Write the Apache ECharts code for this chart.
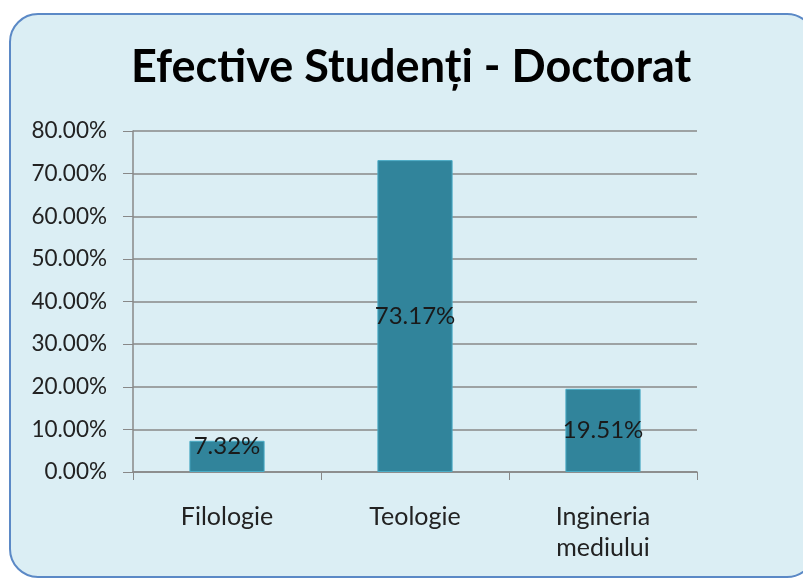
<!DOCTYPE html>
<html>
<head>
<meta charset="utf-8">
<script src="https://cdn.jsdelivr.net/npm/echarts@6/dist/echarts.min.js"></script>
<style>html,body{margin:0;padding:0;background:#fff;}#c{width:803px;height:579px;}</style>
</head>
<body>
<div id="c"></div>
<script>
const titleText = 'Efective Studenți - Doctorat';
const categories = ['Filologie', 'Teologie', 'Ingineria\nmediului'];
const values = [7.32, 73.17, 19.51];
const labelOffsets = [[0, -10], [0, 0], [0, 0]];
const yMin = 0, yMax = 80, yStep = 10;

const chart = echarts.init(document.getElementById('c'), null, {renderer: 'canvas'});
chart.setOption({
  backgroundColor: '#ffffff',
  animation: false,
  graphic: [{
    type: 'rect', z: -10,
    shape: {x: 10, y: 14, width: 805, height: 563, r: 28},
    style: {fill: '#dbeef4', stroke: '#5b89c6', lineWidth: 2}
  }],
  title: {
    text: titleText, left: 126, top: 40,
    textStyle: {fontFamily: 'Lato', fontWeight: 'bold', fontSize: 45, color: '#000'}
  },
  grid: {left: 133, right: 106, top: 131, bottom: 107},
  xAxis: {
    type: 'category', data: categories,
    axisLine: {lineStyle: {color: '#888', width: 1.5}},
    axisTick: {show: true, length: 8, lineStyle: {color: '#888'}},
    axisLabel: {fontFamily: 'Lato', fontSize: 25, color: '#222', margin: 29, lineHeight: 31}
  },
  yAxis: {
    type: 'value', min: yMin, max: yMax, interval: yStep,
    axisLine: {show: true, lineStyle: {color: '#888', width: 1.5}},
    axisTick: {show: true, length: 10, lineStyle: {color: '#888'}},
    splitLine: {lineStyle: {color: '#888', width: 1.5}},
    axisLabel: {fontFamily: 'Lato', fontSize: 22.5, color: '#222', margin: 26,
      formatter: v => v.toFixed(2) + '%'}
  },
  series: [{
    type: 'bar',
    data: values.map((v, i) => ({value: v, label: {offset: labelOffsets[i]}})),
    barCategoryGap: '60%',
    itemStyle: {color: '#31849b', borderColor: '#4bacc6', borderWidth: 1},
    label: {show: true, position: 'inside', fontFamily: 'Lato', fontSize: 24, color: '#1a1a1a',
      formatter: p => p.value.toFixed(2) + '%'}
  }]
});
</script>
</body>
</html>
